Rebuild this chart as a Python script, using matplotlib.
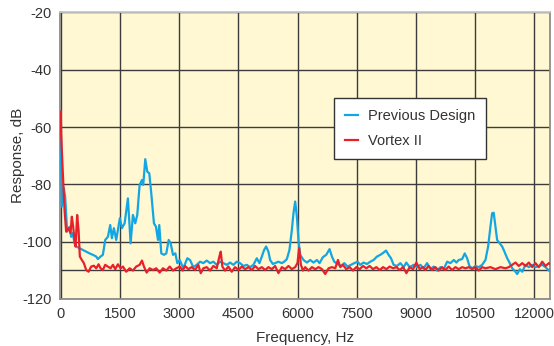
import numpy as np
import matplotlib
matplotlib.use("Agg")
from matplotlib import pyplot as plt

plt.rcParams['axes.unicode_minus'] = False

# previous design (blue) - freq in Hz, response in dB
prev_f = [0, 25, 76, 110, 160, 220, 262, 305, 347, 390, 474, 558, 643, 728, 812, 897, 939,
          1007, 1066, 1125, 1193, 1252, 1294, 1345, 1404, 1447, 1497, 1548, 1617, 1700, 1769,
          1827, 1886, 1937, 1997, 2056, 2089, 2140, 2191, 2241, 2292, 2360, 2411, 2462, 2495,
          2546, 2614, 2673, 2734, 2784, 2843, 2902, 2952, 3013, 3104, 3206, 3274, 3358, 3444,
          3528, 3612, 3697, 3782, 3866, 3952, 4035, 4119, 4205, 4289, 4373, 4459, 4543, 4627,
          4713, 4797, 4881, 4967, 5033, 5094, 5152, 5203, 5261, 5304, 5373, 5431, 5515, 5601,
          5660, 5728, 5794, 5855, 5896, 5939, 5982, 6023, 6066, 6150, 6236, 6320, 6404, 6490,
          6556, 6642, 6726, 6810, 6871, 6929, 7013, 7099, 7183, 7267, 7353, 7437, 7521, 7589,
          7673, 7759, 7843, 7927, 8013, 8097, 8181, 8241, 8307, 8368, 8434, 8520, 8604, 8688,
          8756, 8840, 8942, 9028, 9112, 9196, 9282, 9366, 9450, 9536, 9620, 9704, 9790, 9874,
          9958, 10026, 10084, 10170, 10236, 10297, 10355, 10424, 10507, 10591, 10677, 10761,
          10829, 10887, 10930, 10970, 11014, 11057, 11124, 11185, 11243, 11312, 11378, 11439,
          11497, 11566, 11632, 11693, 11776, 11860, 11946, 12030, 12114, 12200, 12284, 12368,
          12454]
prev_db = [-64.5, -87.8, -81.3, -84.3, -96.5, -94.8, -98.3, -97, -100.6, -101.7, -102.3,
           -102.9, -103.5, -104.1, -104.6, -105.2, -106.1, -105.2, -104.6, -99.4, -98.3, -94.2,
           -98.8, -95.3, -99.4, -95.9, -91.8, -95.3, -93.6, -84.9, -100.6, -90.7, -93.6, -90.7,
           -80.2, -78.5, -80.2, -71.2, -75.6, -76.1, -83.1, -93.6, -94.8, -99.4, -94.2, -104.1,
           -104.6, -104.1, -99.4, -100.6, -104.6, -104.1, -107.5, -106.4, -109.3, -105.8,
           -106.4, -108.9, -108.1, -107, -107.5, -106.6, -107.5, -107, -108.1, -107, -107.5,
           -108.1, -107.3, -108.1, -107, -107.5, -108.5, -108.1, -108.9, -108.1, -105.8,
           -107.5, -105.2, -102.9, -101.7, -103.5, -106.4, -107.8, -107.5, -107, -107.5, -107,
           -106.1, -102.9, -95.9, -90.1, -86.0, -91.3, -99.4, -104.6, -106.4, -107.3, -106.4,
           -107.3, -106.4, -107.5, -105.4, -104.6, -102.6, -105.2, -107, -107.8, -108.5,
           -107.5, -108.7, -108.1, -107.5, -107, -108.1, -107.3, -107.8, -107, -106.4, -105.2,
           -104.6, -103.8, -103.1, -104.6, -105.8, -108.1, -108.5, -107.5, -108.9, -107.3,
           -108.9, -108.1, -108.9, -108.1, -109.3, -107.5, -109.6, -108.7, -110.1, -108.9,
           -109.6, -107, -107.5, -106.4, -107.3, -106.4, -106.1, -104.1, -105.8, -108.5,
           -109.3, -108.5, -108.9, -108.1, -106.4, -101.7, -94.8, -90.1, -89.9, -94.8, -99.4,
           -100.6, -101.7, -103.5, -105.8, -107.5, -109.3, -110.1, -111.3, -109.6, -110.5,
           -108.1, -108.9, -108.1, -108.9, -108.5, -108.1, -108.9, -110.1, -108.9]

# Vortex II (red)
vortex_f = [0, 8, 51, 94, 135, 195, 246, 279, 313, 347, 373, 414, 449, 482, 533, 584, 643,
            703, 769, 838, 897, 957, 1007, 1066, 1125, 1193, 1261, 1320, 1379, 1447, 1515,
            1574, 1657, 1744, 1827, 1911, 1997, 2056, 2107, 2175, 2251, 2335, 2419, 2505, 2589,
            2673, 2759, 2843, 2927, 3013, 3089, 3147, 3231, 3317, 3401, 3485, 3546, 3612, 3697,
            3782, 3866, 3952, 4018, 4053, 4094, 4162, 4246, 4332, 4416, 4500, 4586, 4670, 4754,
            4840, 4924, 5008, 5094, 5178, 5261, 5348, 5431, 5515, 5601, 5685, 5769, 5855, 5939,
            5997, 6040, 6084, 6135, 6193, 6277, 6363, 6447, 6531, 6617, 6701, 6785, 6871, 6955,
            7023, 7081, 7150, 7234, 7318, 7404, 7488, 7572, 7658, 7742, 7826, 7912, 7996, 8080,
            8166, 8250, 8334, 8420, 8504, 8588, 8674, 8758, 8840, 8926, 9010, 9094, 9180, 9238,
            9322, 9408, 9492, 9576, 9662, 9746, 9830, 9916, 10000, 10084, 10170, 10254, 10338,
            10424, 10507, 10591, 10677, 10761, 10887, 11014, 11141, 11268, 11352, 11439, 11522,
            11606, 11693, 11776, 11860, 11946, 12030, 12114, 12200, 12284, 12368, 12454]
vortex_db = [-54.6, -62.2, -76.1, -88.9, -96.5, -95.3, -97, -91.3, -94.8, -99.4, -101.7,
             -90.7, -95.9, -105.2, -106.4, -107.5, -109.9, -110.5, -108.7, -108.4, -109.3,
             -107.9, -109.3, -109.9, -108.1, -108.7, -109.3, -108.1, -109.6, -107.9, -109.3,
             -108.7, -110.5, -109.3, -110.1, -108.7, -108.1, -106.6, -108.7, -110.8, -109.3,
             -109.9, -109.3, -110.8, -109.3, -110.1, -108.7, -110.1, -109.3, -108.7, -110.1,
             -108.5, -109.6, -108.9, -109.9, -108.1, -111, -109.3, -108.9, -110.1, -108.5,
             -109.3, -105.2, -103.5, -108.7, -110.1, -108.7, -110.5, -108.9, -109.9, -108.7,
             -109.6, -108.9, -109.9, -108.5, -109.6, -108.9, -109.9, -108.9, -109.6, -108.5,
             -111, -108.9, -109.6, -108.5, -109.6, -108.9, -107.5, -102.3, -108.1, -110.1,
             -108.9, -110.1, -108.9, -109.6, -108.9, -109.6, -111.3, -109.3, -108.9, -109.3,
             -106.4, -108.9, -108.1, -109.6, -108.9, -110.1, -108.9, -109.6, -108.5, -109.3,
             -108.5, -109.6, -108.9, -109.9, -108.9, -109.6, -108.7, -109.3, -108.9, -109.9,
             -108.9, -111, -108.9, -109.6, -107.3, -109.6, -108.9, -109.9, -108.5, -109.9,
             -108.9, -110.1, -108.9, -109.9, -108.7, -109.9, -108.9, -109.6, -108.9, -109.3,
             -108.9, -109.6, -108.9, -110.1, -108.9, -109.3, -108.9, -109.6, -108.9, -109.3,
             -108.9, -108.1, -107.3, -108.5, -107.5, -108.5, -107.3, -108.9, -107.5, -108.9,
             -107, -108.5, -107.5, -108.5]

xticks = [0, 1500, 3000, 4500, 6000, 7500, 9000, 10500, 12000]
yticks = [-120, -100, -80, -60, -40, -20]

font = ['Liberation Sans', 'DejaVu Sans']
txt = '#333333'

fig = plt.figure(figsize=(5.54, 3.46), dpi=100)
ax = fig.add_axes([0.108, 0.136, 0.885, 0.828])
ax.set_facecolor('#fff8d2')

ax.plot(prev_f, prev_db, color='#13a6e2', lw=1.6, label='Previous Design', zorder=3)
ax.plot(vortex_f, vortex_db, color='#e8202a', lw=1.6, label='Vortex II', zorder=4)

ax.set_xlim(-25, 12400)
ax.set_ylim(-120, -20)
ax.set_xticks(xticks)
ax.set_yticks(yticks)
ax.grid(True, color='#3c3c3c', lw=1.0, zorder=1)
ax.axhline(-110, color='#3c3c3c', lw=1.0, zorder=1)
ax.set_axisbelow(True)
ax.tick_params(length=0, labelsize=10.5, labelcolor=txt, pad=6)
for lab in ax.get_xticklabels() + ax.get_yticklabels():
    lab.set_family(font)

for s in ax.spines.values():
    s.set_color('#8c8c8c')
    s.set_linewidth(1.3)
ax.spines['top'].set_color('#c8c8c8')

ax.set_xlabel('Frequency, Hz', fontsize=11, color=txt, family=font, labelpad=7)
ax.set_ylabel('Response, dB', fontsize=11, color=txt, family=font)
ax.yaxis.set_label_coords(-0.072, 0.5)

leg = ax.legend(loc='upper left', bbox_to_anchor=(0.559, 0.702), borderaxespad=0,
                fancybox=False, edgecolor='#333333', framealpha=1, handlelength=0.9,
                handletextpad=0.7, borderpad=0.75, labelspacing=0.75,
                prop={'family': font, 'size': 10.5})
leg.get_frame().set_linewidth(1.0)
for t in leg.get_texts():
    t.set_color(txt)

plt.savefig('out.png', dpi=100)
